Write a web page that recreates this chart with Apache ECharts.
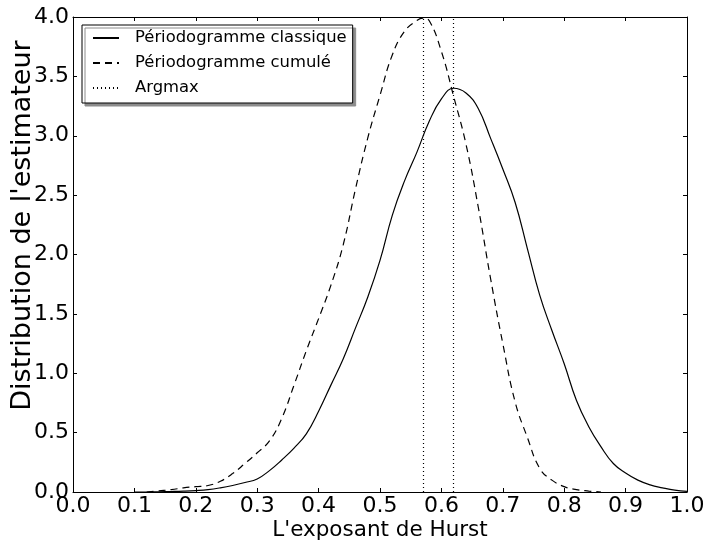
<!DOCTYPE html>
<html>
<head>
<meta charset="utf-8">
<script src="https://cdn.jsdelivr.net/npm/echarts@6/dist/echarts.min.js"></script>
<style>
html,body{margin:0;padding:0;background:#fff;}
#chart{width:708px;height:542px;}
</style>
</head>
<body>
<div id="chart"></div>
<script>
// ---- data ----
const xClassique = [0.10,0.12,0.14,0.16,0.18,0.20,0.22,0.24,0.26,0.28,0.30,0.32,0.34,0.36,0.38,0.40,0.42,0.44,0.46,0.48,0.50,0.52,0.54,0.56,0.58,0.60,0.62,0.64,0.66,0.68,0.70,0.72,0.74,0.76,0.78,0.80,0.82,0.84,0.86,0.88,0.90,0.92,0.94,0.96,0.98,1.00];
const yClassique = [0.0,0.0,0.002,0.004,0.007,0.012,0.02,0.035,0.055,0.08,0.11,0.18,0.27,0.37,0.49,0.68,0.90,1.12,1.38,1.64,1.95,2.33,2.62,2.86,3.12,3.31,3.40,3.36,3.23,2.98,2.72,2.44,2.05,1.66,1.36,1.08,0.77,0.55,0.38,0.24,0.16,0.10,0.06,0.035,0.015,0.005];
const xCumule = [0.12,0.14,0.16,0.18,0.20,0.22,0.24,0.26,0.28,0.30,0.32,0.34,0.36,0.38,0.40,0.42,0.44,0.46,0.48,0.50,0.52,0.54,0.56,0.57,0.58,0.60,0.62,0.64,0.66,0.68,0.70,0.72,0.74,0.76,0.78,0.80,0.82,0.84,0.86];
const yCumule = [0.0,0.01,0.02,0.035,0.045,0.055,0.09,0.155,0.24,0.33,0.43,0.62,0.90,1.19,1.46,1.74,2.08,2.55,2.98,3.34,3.68,3.88,3.97,3.99,3.97,3.71,3.33,2.93,2.40,1.80,1.25,0.76,0.46,0.20,0.10,0.045,0.02,0.008,0.0];
const argmaxX = [0.574, 0.619];
const seriesNames = ['Périodogramme classique', 'Périodogramme cumulé', 'Argmax'];
const xLabelText = "L'exposant de Hurst";
const yLabelText = "Distribution de l'estimateur";

const zip = (xs, ys) => xs.map((x, i) => [x, ys[i]]);
const FONT = 'DejaVu Sans';

const chart = echarts.init(document.getElementById('chart'), null, {renderer: 'canvas'});

const tickCommon = {show: true, inside: true, length: 4, lineStyle: {color: '#000', width: 1}};
const lineCommon = {show: true, onZero: false, lineStyle: {color: '#000', width: 1}};

chart.setOption({
  animation: false,
  backgroundColor: '#fff',
  grid: {left: 73, right: 21, top: 17, bottom: 50, containLabel: false, outerBoundsMode: 'none'},
  legend: {
    left: 82, top: 25, orient: 'vertical',
    data: seriesNames,
    selectedMode: false,
    itemWidth: 26, itemHeight: 14, itemGap: 9,
    padding: [5, 6, 7, 10],
    borderColor: '#000', borderWidth: 1, borderRadius: 0,
    backgroundColor: '#fff',
    shadowColor: '#8c8c8c', shadowOffsetX: 3, shadowOffsetY: 3, shadowBlur: 0,
    itemStyle: {color: 'transparent', borderColor: 'transparent', borderWidth: 0, opacity: 0},
    textStyle: {fontFamily: FONT, fontSize: 16.4, color: '#000', lineHeight: 16, padding: [0, 0, 0, 11]}
  },
  xAxis: [
    {
      type: 'value', min: 0, max: 1, interval: 0.1, position: 'bottom',
      axisLine: lineCommon, axisTick: tickCommon, splitLine: {show: false},
      axisLabel: {fontFamily: FONT, fontSize: 22, color: '#000', margin: 3, formatter: v => v.toFixed(1)},
      name: xLabelText, nameLocation: 'middle', nameGap: 27, nameMoveOverlap: false,
      nameTextStyle: {fontFamily: FONT, fontSize: 21.5, color: '#000'}
    },
    {
      type: 'value', min: 0, max: 1, interval: 0.1, position: 'top',
      axisLine: lineCommon, axisTick: tickCommon, splitLine: {show: false},
      axisLabel: {show: false}
    }
  ],
  yAxis: [
    {
      type: 'value', min: 0, max: 4, interval: 0.5, position: 'left',
      axisLine: lineCommon, axisTick: tickCommon, splitLine: {show: false},
      axisLabel: {fontFamily: FONT, fontSize: 22, color: '#000', margin: 4, formatter: v => v.toFixed(1)},
      name: yLabelText, nameLocation: 'middle', nameGap: 37, nameMoveOverlap: false,
      nameTextStyle: {fontFamily: FONT, fontSize: 27, color: '#000', padding: [0, 0, 0, 58]}
    },
    {
      type: 'value', min: 0, max: 4, interval: 0.5, position: 'right',
      axisLine: lineCommon, axisTick: tickCommon, splitLine: {show: false},
      axisLabel: {show: false}
    }
  ],
  series: [
    {
      name: seriesNames[0], type: 'line', xAxisIndex: 0, yAxisIndex: 0,
      data: zip(xClassique, yClassique), smooth: 0.45, symbol: 'none', showSymbol: false,
      lineStyle: {color: '#000', width: 1.2, type: 'solid'}, itemStyle: {color: '#000'}, z: 3
    },
    {
      name: seriesNames[1], type: 'line', xAxisIndex: 0, yAxisIndex: 0,
      data: zip(xCumule, yCumule), smooth: 0.45, symbol: 'none', showSymbol: false,
      lineStyle: {color: '#000', width: 1.2, type: [7, 5]}, itemStyle: {color: '#000'}, z: 3
    },
    {
      name: seriesNames[2], type: 'line', xAxisIndex: 0, yAxisIndex: 0,
      data: [], symbol: 'none', showSymbol: false,
      lineStyle: {color: '#000', width: 1.2, type: [1, 3]}, itemStyle: {color: '#000'},
      markLine: {
        silent: true, symbol: 'none', animation: false,
        label: {show: false},
        lineStyle: {color: '#000', width: 1.2, type: [1, 3]},
        data: argmaxX.map(v => ({xAxis: v}))
      }, z: 2
    }
  ]
});
</script>
</body>
</html>
